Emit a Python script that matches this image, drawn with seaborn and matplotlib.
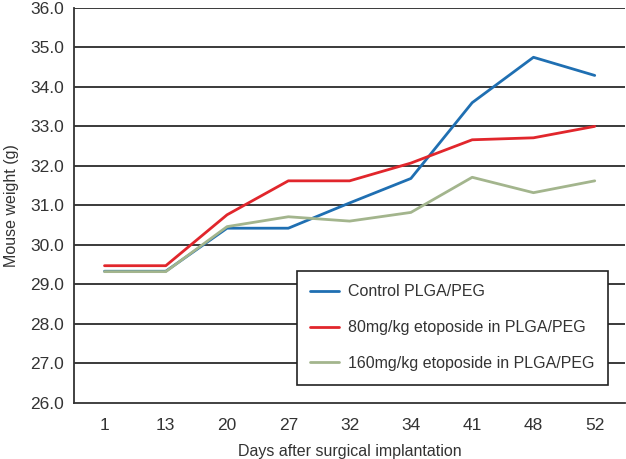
import matplotlib
matplotlib.use("Agg")
import matplotlib.pyplot as plt
import seaborn as sns
import pandas as pd

days = ["1", "13", "20", "27", "32", "34", "41", "48", "52"]
control = [29.33, 29.33, 30.42, 30.42, 31.06, 31.68, 33.60, 34.75, 34.29]
etop80 = [29.47, 29.47, 30.76, 31.62, 31.62, 32.07, 32.66, 32.71, 33.00]
etop160 = [29.32, 29.32, 30.46, 30.71, 30.60, 30.82, 31.71, 31.32, 31.62]
series_names = ["Control PLGA/PEG", "80mg/kg etoposide in PLGA/PEG",
                "160mg/kg etoposide in PLGA/PEG"]
colors = ["#1f6fb2", "#e1262c", "#a3b58d"]

rows = []
for name, vals in zip(series_names, [control, etop80, etop160]):
    for i, (d, v) in enumerate(zip(days, vals)):
        rows.append({"pos": i, "day": d, "weight": v, "series": name})
df = pd.DataFrame(rows)

sns.set_style("white")
plt.rcParams['font.family'] = ['Liberation Sans', 'DejaVu Sans']

fig = plt.figure(figsize=(6.26, 4.59), dpi=100)
ax = fig.add_axes([0.118, 0.1227, 0.881, 0.86])

for y in range(27, 37):
    ax.axhline(y, color="#2b2b2b", lw=1.3, zorder=0)

sns.lineplot(data=df, x="pos", y="weight", hue="series",
             hue_order=series_names, palette=colors, lw=2,
             ax=ax, legend=True)

ax.set_xlim(-0.5, len(days) - 0.5)
ax.set_ylim(26, 36)
ax.set_xticks(range(len(days)))
ax.set_xticklabels(days)
ax.set_yticks(range(26, 37))
ax.set_yticklabels([f"{v:.1f}" for v in range(26, 37)])
ax.tick_params(axis="both", length=0, labelsize=12.5, colors="#333333")
ax.tick_params(axis="x", pad=11)
ax.tick_params(axis="y", pad=7)
for s in ["top", "right"]:
    ax.spines[s].set_visible(False)
for s in ["left", "bottom"]:
    ax.spines[s].set_color("#333333")
    ax.spines[s].set_linewidth(1.3)

ax.set_xlabel("Days after surgical implantation", fontsize=11.5,
              color="#333333", labelpad=8)
ax.set_ylabel("Mouse weight (g)", fontsize=11.5, color="#333333", labelpad=8)

leg = ax.legend(loc="upper left", bbox_to_anchor=(0.404, 0.334),
                frameon=True, fancybox=False, fontsize=11.5,
                handlelength=1.8, labelspacing=1.3, borderpad=0.85,
                handletextpad=0.55, borderaxespad=0)
leg.get_frame().set_edgecolor("#222222")
leg.get_frame().set_linewidth(1.2)
leg.get_frame().set_facecolor("white")
leg.get_frame().set_alpha(1)
for t in leg.get_texts():
    t.set_color("#333333")

fig.savefig("out.png", dpi=100)
